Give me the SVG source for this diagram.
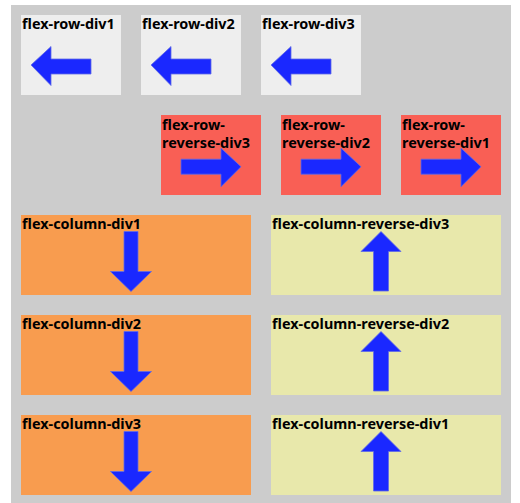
<svg xmlns="http://www.w3.org/2000/svg" width="520" height="503" viewBox="0 0 520 503">
<style>
.t{font-family:"Noto Sans","Open Sans","Liberation Sans",sans-serif;font-weight:bold;font-size:14.4px;fill:#000}
.a{fill:#1a28ff;stroke:#5f6be6;stroke-width:0.8}
.g{fill:#eeeeee}.r{fill:#f95f55}.o{fill:#f89c4f}.y{fill:#e8e8ab}
</style>
<defs>
<polygon id="left" class="a" points="0,0 20,-18.5 20,-6 60,-6 60,9 20,9 20,20.5"/>
<polygon id="right" class="a" points="60,0 40,-18.5 40,-7.5 0,-7.5 0,7.5 40,7.5 40,20"/>
<polygon id="down" class="a" points="-7,0 7,0 7,40 20.5,40 0,60 -20.5,40 -7,40"/>
<polygon id="up" class="a" points="0,0 20,20 7.5,20 7.5,59.5 -7.5,59.5 -7.5,20 -20,20"/>
</defs>
<rect x="0" y="0" width="520" height="503" fill="#ffffff"/>
<rect x="11" y="5" width="500" height="498" fill="#cccccc"/>
<g id="flex-row-div1"><rect class="g" x="21" y="15" width="100" height="80"/><use href="#left" x="31" y="65"/><text class="t" x="22" y="29">flex-row-div1</text></g>
<g id="flex-row-div2"><rect class="g" x="141" y="15" width="100" height="80"/><use href="#left" x="151" y="65"/><text class="t" x="142" y="29">flex-row-div2</text></g>
<g id="flex-row-div3"><rect class="g" x="261" y="15" width="100" height="80"/><use href="#left" x="271" y="65"/><text class="t" x="262" y="29">flex-row-div3</text></g>
<g id="flex-row-reverse-div3"><rect class="r" x="161" y="115" width="100" height="80"/><use href="#right" x="181" y="166.7"/><text class="t" x="162" y="130">flex-row-<tspan x="162" y="148">reverse-div3</tspan></text></g>
<g id="flex-row-reverse-div2"><rect class="r" x="281" y="115" width="100" height="80"/><use href="#right" x="301" y="166.7"/><text class="t" x="282" y="130">flex-row-<tspan x="282" y="148">reverse-div2</tspan></text></g>
<g id="flex-row-reverse-div1"><rect class="r" x="401" y="115" width="100" height="80"/><use href="#right" x="421" y="166.7"/><text class="t" x="402" y="130">flex-row-<tspan x="402" y="148">reverse-div1</tspan></text></g>
<g id="flex-column-div1"><rect class="o" x="21" y="215" width="230" height="80"/><use href="#down" x="131" y="231.5"/><text class="t" x="22" y="229">flex-column-div1</text></g>
<g id="flex-column-div2"><rect class="o" x="21" y="315" width="230" height="80"/><use href="#down" x="131" y="331.5"/><text class="t" x="22" y="329">flex-column-div2</text></g>
<g id="flex-column-div3"><rect class="o" x="21" y="415" width="230" height="80"/><use href="#down" x="131" y="431.5"/><text class="t" x="22" y="429">flex-column-div3</text></g>
<g id="flex-column-reverse-div3"><rect class="y" x="271" y="215" width="230" height="80"/><use href="#up" x="381" y="231.5"/><text class="t" x="272" y="229">flex-column-reverse-div3</text></g>
<g id="flex-column-reverse-div2"><rect class="y" x="271" y="315" width="230" height="80"/><use href="#up" x="381" y="331.5"/><text class="t" x="272" y="329">flex-column-reverse-div2</text></g>
<g id="flex-column-reverse-div1"><rect class="y" x="271" y="415" width="230" height="80"/><use href="#up" x="381" y="431.5"/><text class="t" x="272" y="429">flex-column-reverse-div1</text></g>
<g id="connectors"></g>
</svg>
